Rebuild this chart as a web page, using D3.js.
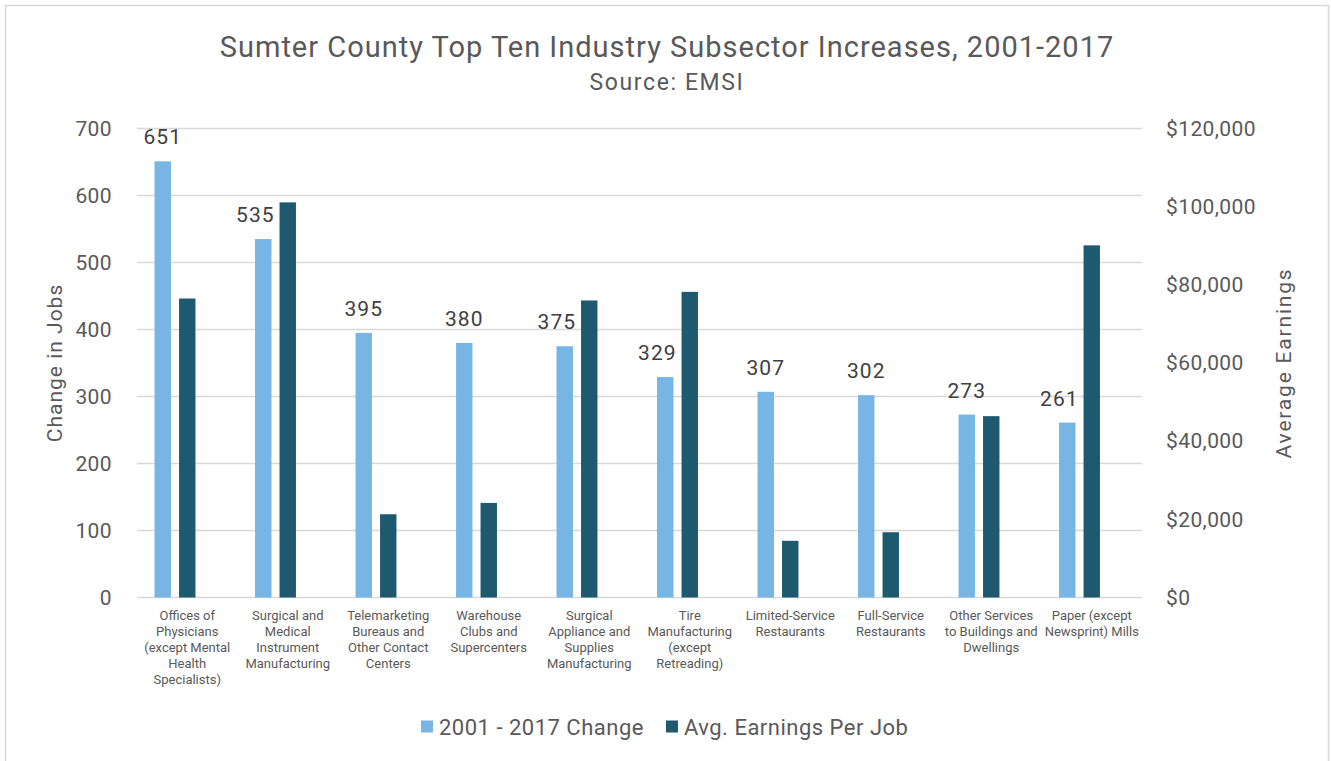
<!DOCTYPE html>
<html>
<head>
<meta charset="utf-8">
<script src="https://cdn.jsdelivr.net/npm/d3@7"></script>
<style>
  body { margin: 0; background: #fff; }
  svg { display: block; font-family: Roboto, "Noto Sans", sans-serif; }
</style>
</head>
<body>
<svg id="chart" width="1331" height="761"></svg>
<script>
// Sumter County top ten subsector increases — combo of two bar series on dual axes

const categories = [
  ['Offices of', 'Physicians', '(except Mental', 'Health', 'Specialists)'],
  ['Surgical and', 'Medical', 'Instrument', 'Manufacturing'],
  ['Telemarketing', 'Bureaus and', 'Other Contact', 'Centers'],
  ['Warehouse', 'Clubs and', 'Supercenters'],
  ['Surgical', 'Appliance and', 'Supplies', 'Manufacturing'],
  ['Tire', 'Manufacturing', '(except', 'Retreading)'],
  ['Limited-Service', 'Restaurants'],
  ['Full-Service', 'Restaurants'],
  ['Other Services', 'to Buildings and', 'Dwellings'],
  ['Paper (except', 'Newsprint) Mills'],
];
const jobChange   = [651, 535, 395, 380, 375, 329, 307, 302, 273, 261];
const avgEarnings = [76500, 101100, 21300, 24200, 76000, 78200, 14500, 16700, 46400, 90100];

const jobTicks      = [0, 100, 200, 300, 400, 500, 600, 700];
const earningsTicks = [0, 20000, 40000, 60000, 80000, 100000, 120000];

const seriesNames = ['2001 - 2017 Change', 'Avg. Earnings Per Job'];
const COLORS = { change: '#77b5e4', earnings: '#1f596f' };
const TEXT   = '#595959';
const GRID   = '#d9d9d9';

const svg = d3.select('#chart');
const plot = { left: 137, right: 1142, top: 128.5, bottom: 597.5 };

// ── frame ─────────────────────────────────────────────────────────────────────
svg.append('rect')
  .attr('x', 5.5).attr('y', 5.5).attr('width', 1323).attr('height', 770)
  .attr('fill', '#fff').attr('stroke', GRID).attr('stroke-width', 1.5);

// ── scales ────────────────────────────────────────────────────────────────────
const idx = d3.range(categories.length);
const x = d3.scaleBand().domain(idx).range([plot.left, plot.right]).padding(0);
// third slot left empty so the pair sits left of centre, as in the original
const xSub = d3.scaleBand().domain(['change', 'earnings', 'blank'])
  .range([0, x.bandwidth()]).paddingInner(0.33).paddingOuter(0.716);
const yJobs = d3.scaleLinear().domain([0, 700]).range([plot.bottom, plot.top]);
const yEarn = d3.scaleLinear().domain([0, 120000]).range([plot.bottom, plot.top]);

// ── gridlines ─────────────────────────────────────────────────────────────────
svg.append('g')
  .selectAll('line').data(jobTicks).enter().append('line')
  .attr('x1', plot.left).attr('x2', plot.right)
  .attr('y1', d => yJobs(d)).attr('y2', d => yJobs(d))
  .attr('stroke', GRID).attr('stroke-width', 1.5);

// ── axes (labels only, Excel-style) ───────────────────────────────────────────
const leftAxis = svg.append('g')
  .attr('transform', `translate(${plot.left - 25},0)`)
  .call(d3.axisLeft(yJobs).tickValues(jobTicks).tickSize(0).tickPadding(0));
const rightAxis = svg.append('g')
  .attr('transform', `translate(${plot.right + 24},0)`)
  .call(d3.axisRight(yEarn).tickValues(earningsTicks).tickSize(0).tickPadding(0)
    .tickFormat(d => '$' + d3.format(',')(d)));
[leftAxis, rightAxis].forEach(a => {
  a.select('.domain').remove();
  a.selectAll('text').attr('fill', TEXT).attr('font-size', 21)
    .attr('font-family', 'Roboto').attr('letter-spacing', 0.4);
});

// axis titles
svg.append('text')
  .attr('transform', `translate(62,${(plot.top + plot.bottom) / 2}) rotate(-90)`)
  .attr('text-anchor', 'middle').attr('fill', TEXT).attr('font-size', 21)
  .attr('letter-spacing', 1)
  .text('Change in Jobs');
svg.append('text')
  .attr('transform', `translate(1291,${(plot.top + plot.bottom) / 2}) rotate(-90)`)
  .attr('text-anchor', 'middle').attr('fill', TEXT).attr('font-size', 21)
  .attr('letter-spacing', 1.8)
  .text('Average Earnings');

// ── bars ──────────────────────────────────────────────────────────────────────
svg.append('g').selectAll('rect').data(idx).enter().append('rect')
  .attr('x', i => x(i) + xSub('change'))
  .attr('width', xSub.bandwidth())
  .attr('y', i => yJobs(jobChange[i]))
  .attr('height', i => plot.bottom - yJobs(jobChange[i]))
  .attr('fill', COLORS.change);

svg.append('g').selectAll('rect').data(idx).enter().append('rect')
  .attr('x', i => x(i) + xSub('earnings'))
  .attr('width', xSub.bandwidth())
  .attr('y', i => yEarn(avgEarnings[i]))
  .attr('height', i => plot.bottom - yEarn(avgEarnings[i]))
  .attr('fill', COLORS.earnings);

// data labels above the job-change bars; nudged left where the taller dark bar would clash
const labels = svg.append('g').selectAll('text').data(idx).enter().append('text')
  .attr('x', i => x(i) + xSub('change') + xSub.bandwidth() / 2)
  .attr('y', i => yJobs(jobChange[i]) - 17)
  .attr('text-anchor', 'middle')
  .attr('fill', '#404040').attr('font-size', 21).attr('letter-spacing', 1)
  .text(i => jobChange[i]);
labels.each(function(i) {
  const bb = this.getBBox();
  const darkLeft = x(i) + xSub('earnings');
  const darkTop  = yEarn(avgEarnings[i]);
  if (darkTop < bb.y + bb.height && bb.x + bb.width > darkLeft - 5) {
    const shift = bb.x + bb.width - (darkLeft - 5);
    d3.select(this).attr('x', +d3.select(this).attr('x') - shift);
  }
});

// category labels
const catG = svg.append('g').selectAll('text').data(idx).enter().append('text')
  .attr('text-anchor', 'middle').attr('fill', TEXT).attr('font-size', 13)
  .attr('x', i => x(i) + x.bandwidth() / 2)
  .attr('y', 620);
catG.selectAll('tspan').data(i => categories[i].map(t => ({ t, i }))).enter().append('tspan')
  .attr('x', d => x(d.i) + x.bandwidth() / 2)
  .attr('dy', (d, j) => j === 0 ? 0 : 16)
  .text(d => d.t);

// ── title ─────────────────────────────────────────────────────────────────────
svg.append('text')
  .attr('x', 667).attr('y', 57).attr('text-anchor', 'middle')
  .attr('fill', TEXT).attr('font-size', 29).attr('letter-spacing', 1)
  .text('Sumter County Top Ten Industry Subsector Increases, 2001-2017');
svg.append('text')
  .attr('x', 667).attr('y', 90).attr('text-anchor', 'middle')
  .attr('fill', TEXT).attr('font-size', 23).attr('letter-spacing', 1.6)
  .text('Source: EMSI');

// ── legend (items laid out one after another) ─────────────────────────────────
const legend = svg.append('g').attr('transform', 'translate(421,727)');
const legendKeys = ['change', 'earnings'];
let lx = 0;
legendKeys.forEach((k, i) => {
  legend.append('rect').attr('x', lx).attr('y', -6.5)
    .attr('width', 12).attr('height', 12).attr('fill', COLORS[k]);
  const t = legend.append('text').attr('x', lx + 18).attr('y', 8)
    .attr('fill', TEXT).attr('font-size', 22).attr('letter-spacing', 0.5)
    .text(seriesNames[i]);
  lx += 18 + t.node().getComputedTextLength() + 22;
});
</script>
</body>
</html>
